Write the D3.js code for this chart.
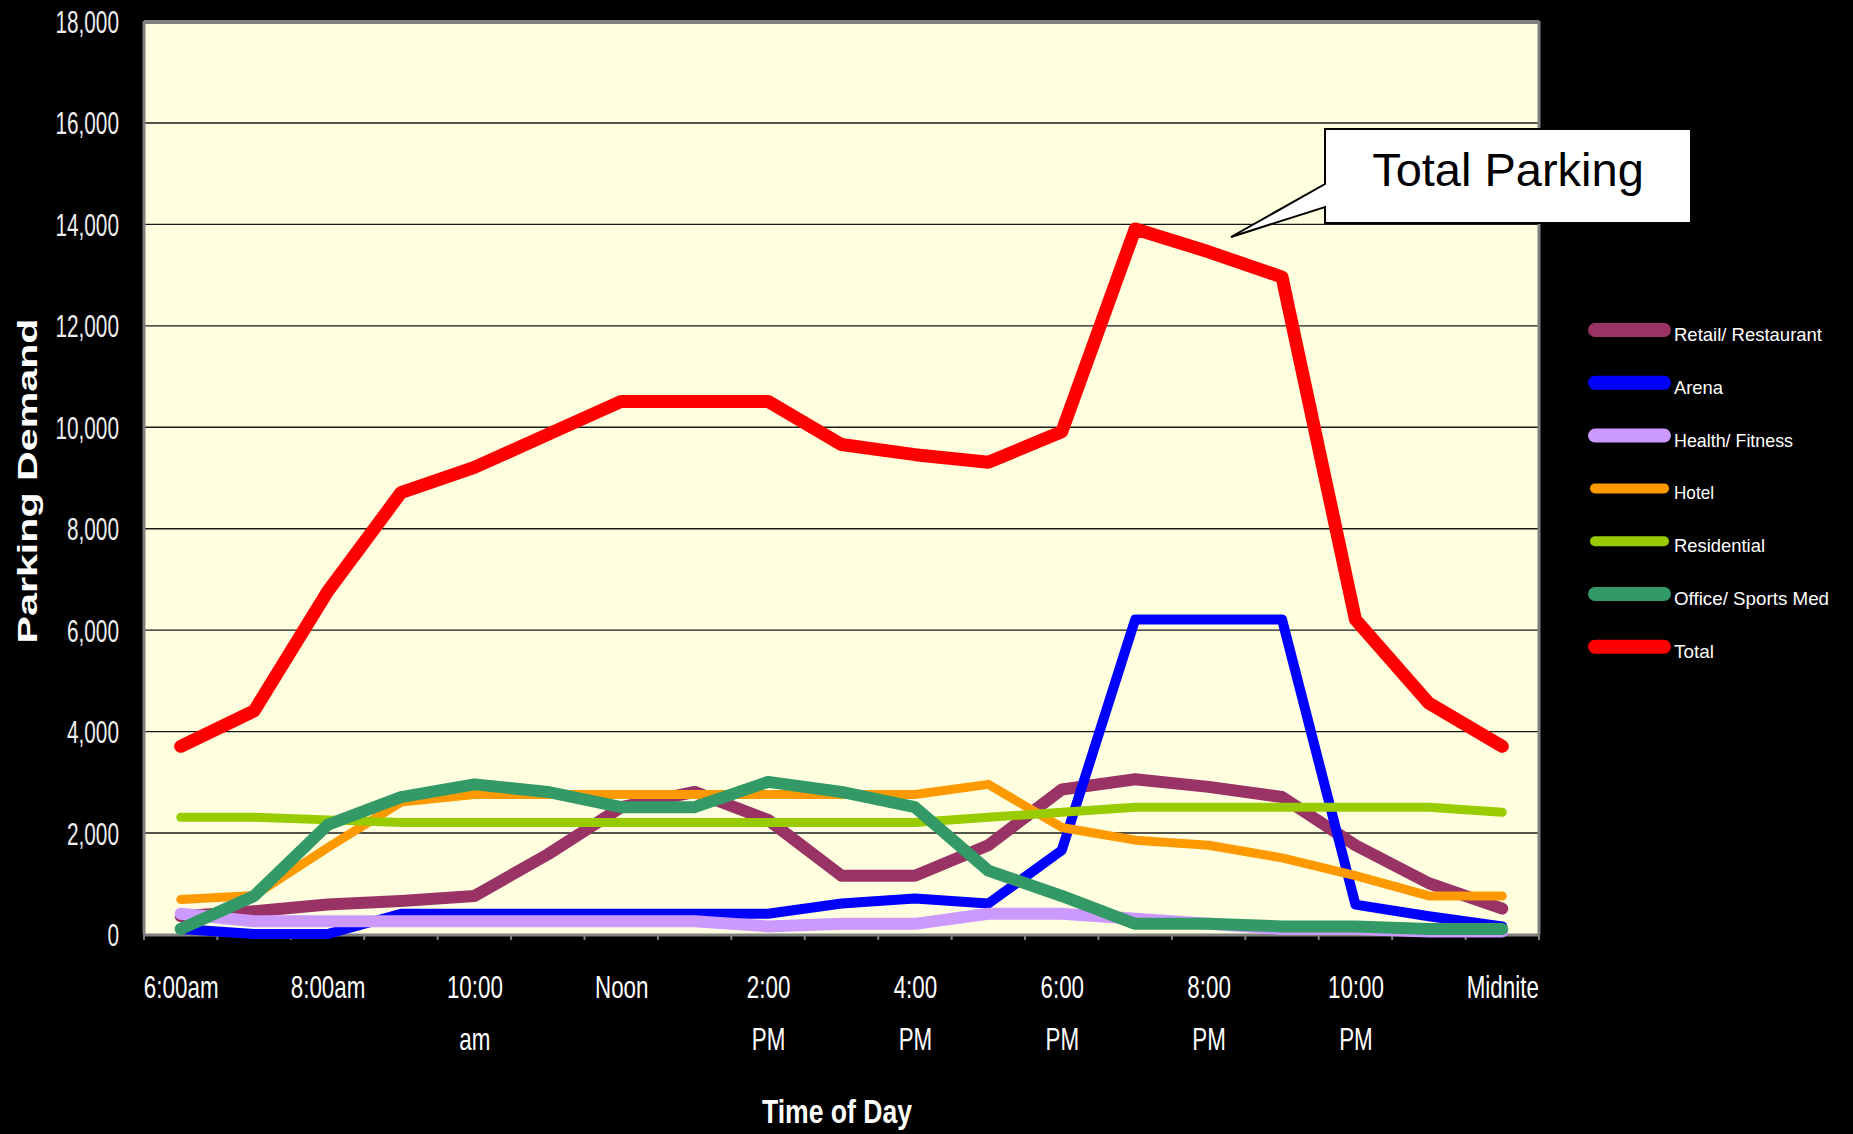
<!DOCTYPE html>
<html>
<head>
<meta charset="utf-8">
<script src="https://cdn.jsdelivr.net/npm/d3@7"></script>
<style>
  html, body { margin: 0; padding: 0; background: #000; }
  svg { display: block; }
  text { font-family: "Liberation Sans", Arial, sans-serif; }
</style>
</head>
<body>
<svg id="chart" width="1853" height="1134"></svg>
<script>
// ---------------- data ----------------
const times = ["6:00am","7:00am","8:00am","9:00am","10:00am","11:00am","Noon","1:00PM","2:00PM","3:00PM","4:00PM","5:00PM","6:00PM","7:00PM","8:00PM","9:00PM","10:00PM","11:00PM","Midnite"];
const xTickCats = ["6:00am","8:00am","10:00am","Noon","2:00PM","4:00PM","6:00PM","8:00PM","10:00PM","Midnite"];
const xTickLabels = [["6:00am"],["8:00am"],["10:00","am"],["Noon"],["2:00","PM"],["4:00","PM"],["6:00","PM"],["8:00","PM"],["10:00","PM"],["Midnite"]];
const yTicks = [0,2000,4000,6000,8000,10000,12000,14000,16000,18000];

const seriesNames = ["Retail/ Restaurant","Arena","Health/ Fitness","Hotel","Residential","Office/ Sports Med","Total"];
const retail      = [350, 450, 580, 650, 750, 1570, 2500, 2800, 2250, 1150, 1150, 1750, 2850, 3050, 2900, 2700, 1750, 1000, 500];
const arena       = [100, 0, 0, 400, 400, 400, 400, 400, 400, 600, 700, 600, 1650, 6200, 6200, 6200, 580, 350, 150];
const health      = [400, 250, 250, 250, 250, 250, 250, 250, 150, 200, 200, 400, 400, 300, 200, 100, 100, 50, 50];
const hotel       = [680, 760, 1700, 2600, 2750, 2750, 2750, 2750, 2750, 2750, 2750, 2950, 2100, 1850, 1750, 1500, 1150, 750, 750];
const residential = [2300, 2300, 2250, 2200, 2200, 2200, 2200, 2200, 2200, 2200, 2200, 2300, 2400, 2500, 2500, 2500, 2500, 2500, 2400];
const office      = [100, 750, 2150, 2700, 2950, 2800, 2500, 2500, 3000, 2800, 2500, 1250, 750, 200, 200, 150, 150, 100, 100];
const total       = [3700, 4400, 6750, 8700, 9200, 9850, 10500, 10500, 10500, 9650, 9450, 9300, 9900, 13900, 13450, 12950, 6200, 4550, 3700];
const seriesValues = [retail, arena, health, hotel, residential, office, total];
const calloutText = "Total Parking";

// ---------------- styles ----------------
const colors = ["#993366","#0000FF","#CC99FF","#FF9900","#99CC00","#339966","#FF0000"];
const widths = [12, 10, 12, 9, 9, 12, 13];
const legendWidths = [14, 14, 14, 10, 10, 14, 14];
const legendTextLen = [148, 49, 119, 40, 91, 155, 40];

const plot = {left: 144, right: 1539, top: 21, bottom: 934};
const svg = d3.select("#chart");

const x = d3.scalePoint().domain(times).range([plot.left, plot.right]).padding(0.5);
const y = d3.scaleLinear().domain([0, 18000]).range([plot.bottom, plot.top]);

// plot background
svg.append("rect")
  .attr("x", plot.left).attr("y", plot.top)
  .attr("width", plot.right - plot.left).attr("height", plot.bottom - plot.top)
  .attr("fill", "#FFFFE0");

// gridlines
svg.append("g")
  .attr("transform", `translate(${plot.left},0)`)
  .call(d3.axisLeft(y).tickValues(yTicks.filter(v => v > 0 && v < 18000)).tickSize(-(plot.right - plot.left)).tickFormat(""))
  .call(g => g.select(".domain").remove())
  .call(g => g.selectAll("line").attr("stroke", "#1a1a1a").attr("stroke-width", 1.4));

// y axis labels
svg.append("g")
  .attr("transform", `translate(${plot.left},0)`)
  .call(d3.axisLeft(y).tickValues(yTicks).tickFormat(d3.format(",")).tickSize(0).tickPadding(0))
  .call(g => g.select(".domain").remove())
  .call(g => g.selectAll("text")
    .attr("x", 0).attr("dy", "0.36em")
    .attr("transform", "translate(-25,0) scale(0.65,1)")
    .attr("fill", "#eeeeee").attr("font-size", 32)
    .attr("text-anchor", "end"));

// x axis labels
svg.append("g")
  .attr("transform", `translate(0,${plot.bottom})`)
  .call(d3.axisBottom(x).tickValues(xTickCats).tickSize(0).tickPadding(0))
  .call(g => g.select(".domain").remove())
  .call(g => g.selectAll("text").each(function(d) {
    const lines = xTickLabels[xTickCats.indexOf(d)];
    const t = d3.select(this).text(null)
      .attr("y", 0).attr("dy", null)
      .attr("fill", "#ffffff").attr("font-size", 32)
      .attr("transform", "scale(0.7,1)")
      .attr("text-anchor", "middle");
    lines.forEach((s, i) => t.append("tspan").attr("x", 0).attr("y", 64 + i * 52).text(s));
  }));

// frame
const frame = svg.append("g").attr("fill", "none").attr("stroke", "#808080");
frame.append("line").attr("x1", plot.left).attr("x2", plot.right).attr("y1", plot.top + 1).attr("y2", plot.top + 1).attr("stroke-width", 4);
frame.append("line").attr("x1", plot.left).attr("x2", plot.left).attr("y1", plot.top).attr("y2", plot.bottom).attr("stroke-width", 3);
frame.append("line").attr("x1", plot.right).attr("x2", plot.right).attr("y1", plot.top).attr("y2", plot.bottom).attr("stroke-width", 3);
frame.append("line").attr("x1", plot.left - 1).attr("x2", plot.right + 1).attr("y1", plot.bottom + 1).attr("y2", plot.bottom + 1).attr("stroke-width", 3);
const step = x.step();
const boundaries = times.map(t => x(t) - step / 2).concat([x(times[times.length - 1]) + step / 2]);
frame.selectAll("line.tick").data(boundaries).enter().append("line")
  .attr("class", "tick")
  .attr("x1", d => d).attr("x2", d => d)
  .attr("y1", plot.bottom).attr("y2", plot.bottom + 6)
  .attr("stroke-width", 2);

// series lines
const line = d3.line().x((d, i) => x(times[i])).y(d => y(d));
svg.append("g").selectAll("path").data(seriesValues).enter().append("path")
  .attr("d", d => line(d))
  .attr("fill", "none")
  .attr("stroke", (d, i) => colors[i])
  .attr("stroke-width", (d, i) => widths[i])
  .attr("stroke-linejoin", "round")
  .attr("stroke-linecap", "round");

// callout
const box = {x: 1325, y: 129, w: 366, h: 94};
const tip = {x: 1231, y: 237};
const wedgeTop = 184, wedgeBot = 207;
svg.append("path")
  .attr("d", `M${box.x},${box.y} H${box.x + box.w} V${box.y + box.h} H${box.x} V${wedgeBot} L${tip.x},${tip.y} L${box.x},${wedgeTop} Z`)
  .attr("fill", "#ffffff").attr("stroke", "#000").attr("stroke-width", 2).attr("stroke-linejoin", "miter");
svg.append("text")
  .attr("x", box.x + box.w / 2).attr("y", 186)
  .attr("text-anchor", "middle").attr("font-size", 47).attr("fill", "#000")
  .text(calloutText);

// legend
const legend = svg.append("g");
seriesNames.forEach((name, i) => {
  const ry = 330 + i * 52.8;
  legend.append("line")
    .attr("x1", 1595).attr("x2", 1664).attr("y1", ry).attr("y2", ry)
    .attr("stroke", colors[i]).attr("stroke-width", legendWidths[i]).attr("stroke-linecap", "round");
  legend.append("text")
    .attr("x", 1674).attr("y", ry + 11)
    .attr("font-size", 19).attr("fill", "#ffffff")
    .attr("textLength", legendTextLen[i]).attr("lengthAdjust", "spacingAndGlyphs")
    .text(name);
});

// axis titles
svg.append("text")
  .attr("transform", "translate(37,481) rotate(-90)")
  .attr("text-anchor", "middle").attr("font-size", 28).attr("font-weight", "bold")
  .attr("fill", "#ffffff")
  .attr("textLength", 325).attr("lengthAdjust", "spacingAndGlyphs")
  .text("Parking Demand");
svg.append("text")
  .attr("x", 837).attr("y", 1123)
  .attr("text-anchor", "middle").attr("font-size", 33).attr("font-weight", "bold")
  .attr("fill", "#ffffff")
  .attr("textLength", 150).attr("lengthAdjust", "spacingAndGlyphs")
  .text("Time of Day");
</script>
</body>
</html>
